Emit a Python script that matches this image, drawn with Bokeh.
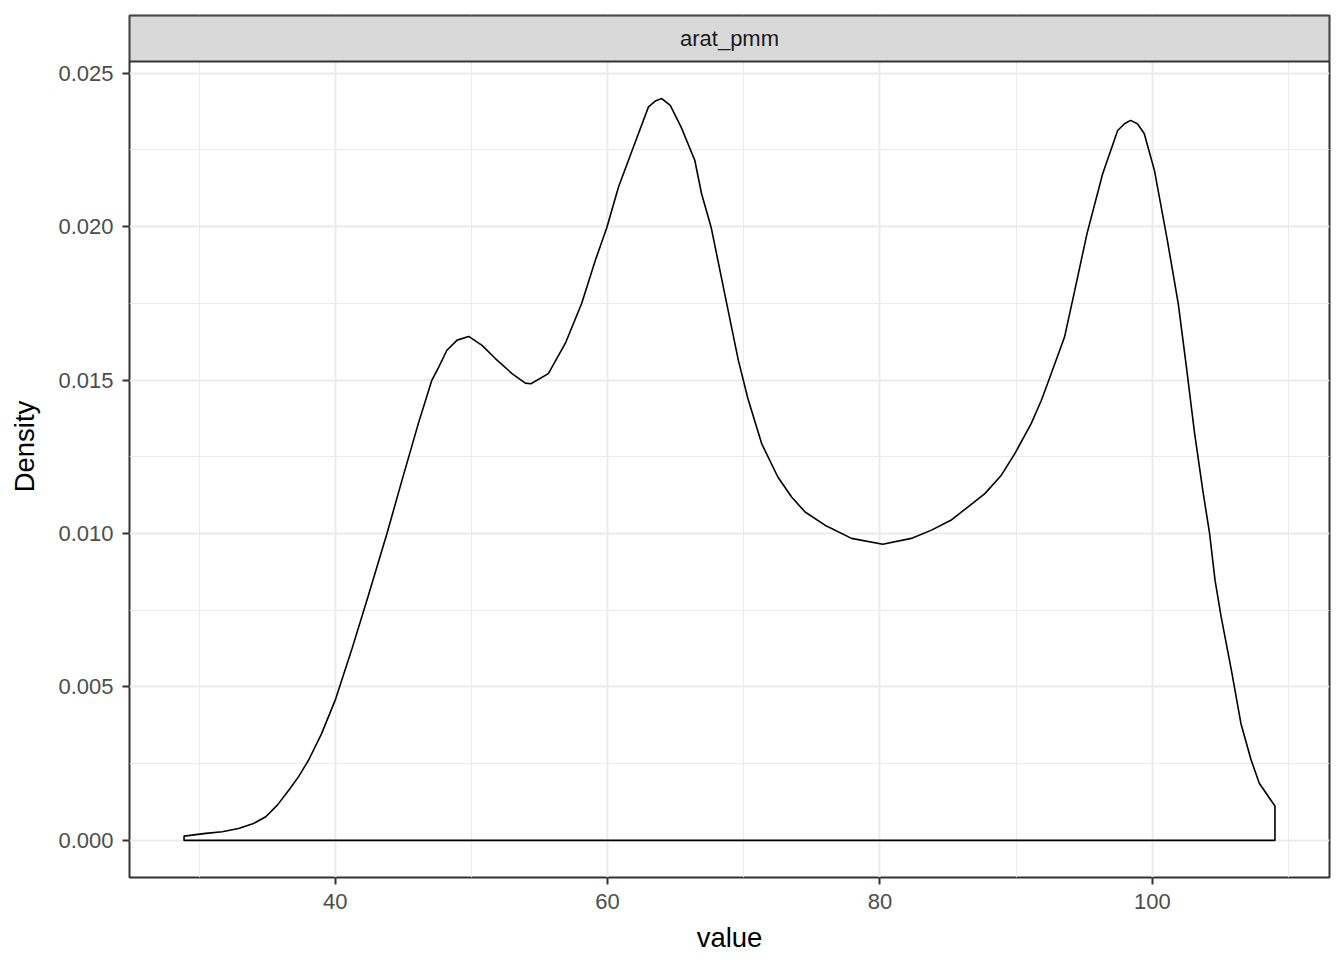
from bokeh.plotting import figure
from bokeh.models import FixedTicker, PrintfTickFormatter, Range1d
from bokeh.core.properties import value
from bokeh.embed import file_html
from bokeh.resources import INLINE

# ---- data ----
dens_x = [28.9, 30.5, 31.7, 32.9, 34.0, 34.9, 35.75, 36.6, 37.3, 38.05, 39.0, 40.0,
          41.2, 42.4, 43.8, 44.9, 46.1, 47.1, 47.6, 48.2, 48.95, 49.8, 50.78, 51.76,
          52.98, 53.96, 54.37, 55.65, 56.9, 58.1, 59.1, 59.95, 60.8, 61.8, 63.0,
          63.5, 63.98, 64.6, 65.4, 66.4, 66.9, 67.6, 68.6, 69.6, 70.3, 71.31, 72.5,
          73.51, 74.5, 75.96, 77.91, 80.2, 82.3, 83.78, 85.2, 86.47, 87.7, 88.91,
          89.9, 91.1, 91.85, 92.3, 93.55, 94.3, 95.2, 96.35, 97.45, 97.95, 98.4,
          98.9, 99.4, 100.15, 101.1, 101.9, 102.5, 103.1, 103.7, 104.2, 104.6,
          105.05, 105.8, 106.5, 107.25, 107.85, 109.0]
dens_y = [0.00014, 0.00023, 0.00028, 0.00039, 0.00055, 0.00077, 0.00115, 0.00164,
          0.00207, 0.00262, 0.00348, 0.00457, 0.0062, 0.00793, 0.0100, 0.01173,
          0.01358, 0.0150, 0.01542, 0.01597, 0.0163, 0.01642, 0.01613, 0.0157,
          0.01521, 0.0149, 0.01488, 0.01521, 0.0162, 0.0175, 0.0189, 0.01998,
          0.02129, 0.02248, 0.0239, 0.02409, 0.02417, 0.02395, 0.02324, 0.02216,
          0.02107, 0.01998, 0.01781, 0.01564, 0.0144, 0.01293, 0.01184, 0.01119,
          0.0107, 0.01027, 0.00984, 0.00965, 0.00984, 0.01011, 0.01043, 0.01087,
          0.0113, 0.0119, 0.0126, 0.01358, 0.01434, 0.01488, 0.0164, 0.01792,
          0.01977, 0.02172, 0.02313, 0.02335, 0.02346, 0.02335, 0.02303, 0.02183,
          0.01955, 0.01749, 0.01542, 0.01326, 0.01141, 0.0100, 0.00848, 0.00728,
          0.00555, 0.00381, 0.00262, 0.00186, 0.00112]

x_major = [40, 60, 80, 100]
x_minor = [30, 50, 70, 90, 110]
y_major = [0.0, 0.005, 0.010, 0.015, 0.020, 0.025]
y_minor = [0.0025, 0.0075, 0.0125, 0.0175, 0.0225]
strip_label = "arat_pmm"
x_title = "value"
y_title = "Density"

# ---- ranges (ggplot-like 5% expansion) ----
xmin, xmax = min(dens_x), max(dens_x)
xpad = 0.05 * (xmax - xmin)
x0, x1 = xmin - xpad, xmax + xpad
ymax = max(dens_y)
ypad = 0.05 * ymax
y0, panel_top = -ypad, ymax + ypad
panel_px = 816.0
strip_px = 46.0
y1 = panel_top + strip_px / panel_px * (panel_top - y0)

FONT = "Liberation Sans"

p = figure(width=1336, height=956, output_backend="svg", toolbar_location=None,
           x_range=Range1d(x0, x1), y_range=Range1d(y0, y1),
           min_border_left=129, min_border_right=7, min_border_top=15,
           min_border_bottom=79, background_fill_color="white",
           border_fill_color="white")

p.outline_line_color = "#333333"
p.outline_line_width = 2

p.xaxis.ticker = FixedTicker(ticks=x_major, minor_ticks=x_minor)
p.yaxis.ticker = FixedTicker(ticks=y_major, minor_ticks=y_minor)
p.xaxis.formatter = PrintfTickFormatter(format="%d")
p.yaxis.formatter = PrintfTickFormatter(format="%.3f")

for ax in (p.xaxis, p.yaxis):
    ax.axis_line_color = None
    ax.major_tick_line_color = "#333333"
    ax.major_tick_line_width = 2
    ax.major_tick_out = 7
    ax.major_tick_in = 0
    ax.minor_tick_out = 0
    ax.minor_tick_in = 0
    ax.major_label_text_font = FONT
    ax.major_label_text_font_size = "22px"
    ax.major_label_text_color = "#4D4D4D"
    ax.axis_label_text_font = FONT
    ax.axis_label_text_font_size = "27.5px"
    ax.axis_label_text_font_style = "normal"
    ax.axis_label_text_color = "black"

p.xaxis.axis_label = x_title
p.yaxis.axis_label = y_title
p.xaxis.major_label_standoff = 9
p.xaxis.axis_label_standoff = 10
p.yaxis.major_label_standoff = 9
p.yaxis.axis_label_standoff = 15

for g in (p.xgrid, p.ygrid):
    g.grid_line_color = "#EBEBEB"
    g.grid_line_width = 2
    g.minor_grid_line_color = "#EBEBEB"
    g.minor_grid_line_width = 1

# density outline (closed polygon down to zero like geom_density)
poly_x = dens_x + [dens_x[-1], dens_x[0]]
poly_y = dens_y + [0.0, 0.0]
p.patch(poly_x, poly_y, fill_color=None, line_color="black", line_width=1.6)

# facet strip
p.quad(left=[x0], right=[x1], bottom=[panel_top], top=[y1],
       fill_color="#D9D9D9", line_color="#333333", line_width=2)
p.text(x=[(x0 + x1) / 2], y=[(panel_top + y1) / 2], text=[strip_label],
       text_font=value(FONT), text_font_size="22px", text_align="center",
       text_baseline="middle", text_color="#1A1A1A")

open("out.html", "w").write(file_html(p, INLINE))
